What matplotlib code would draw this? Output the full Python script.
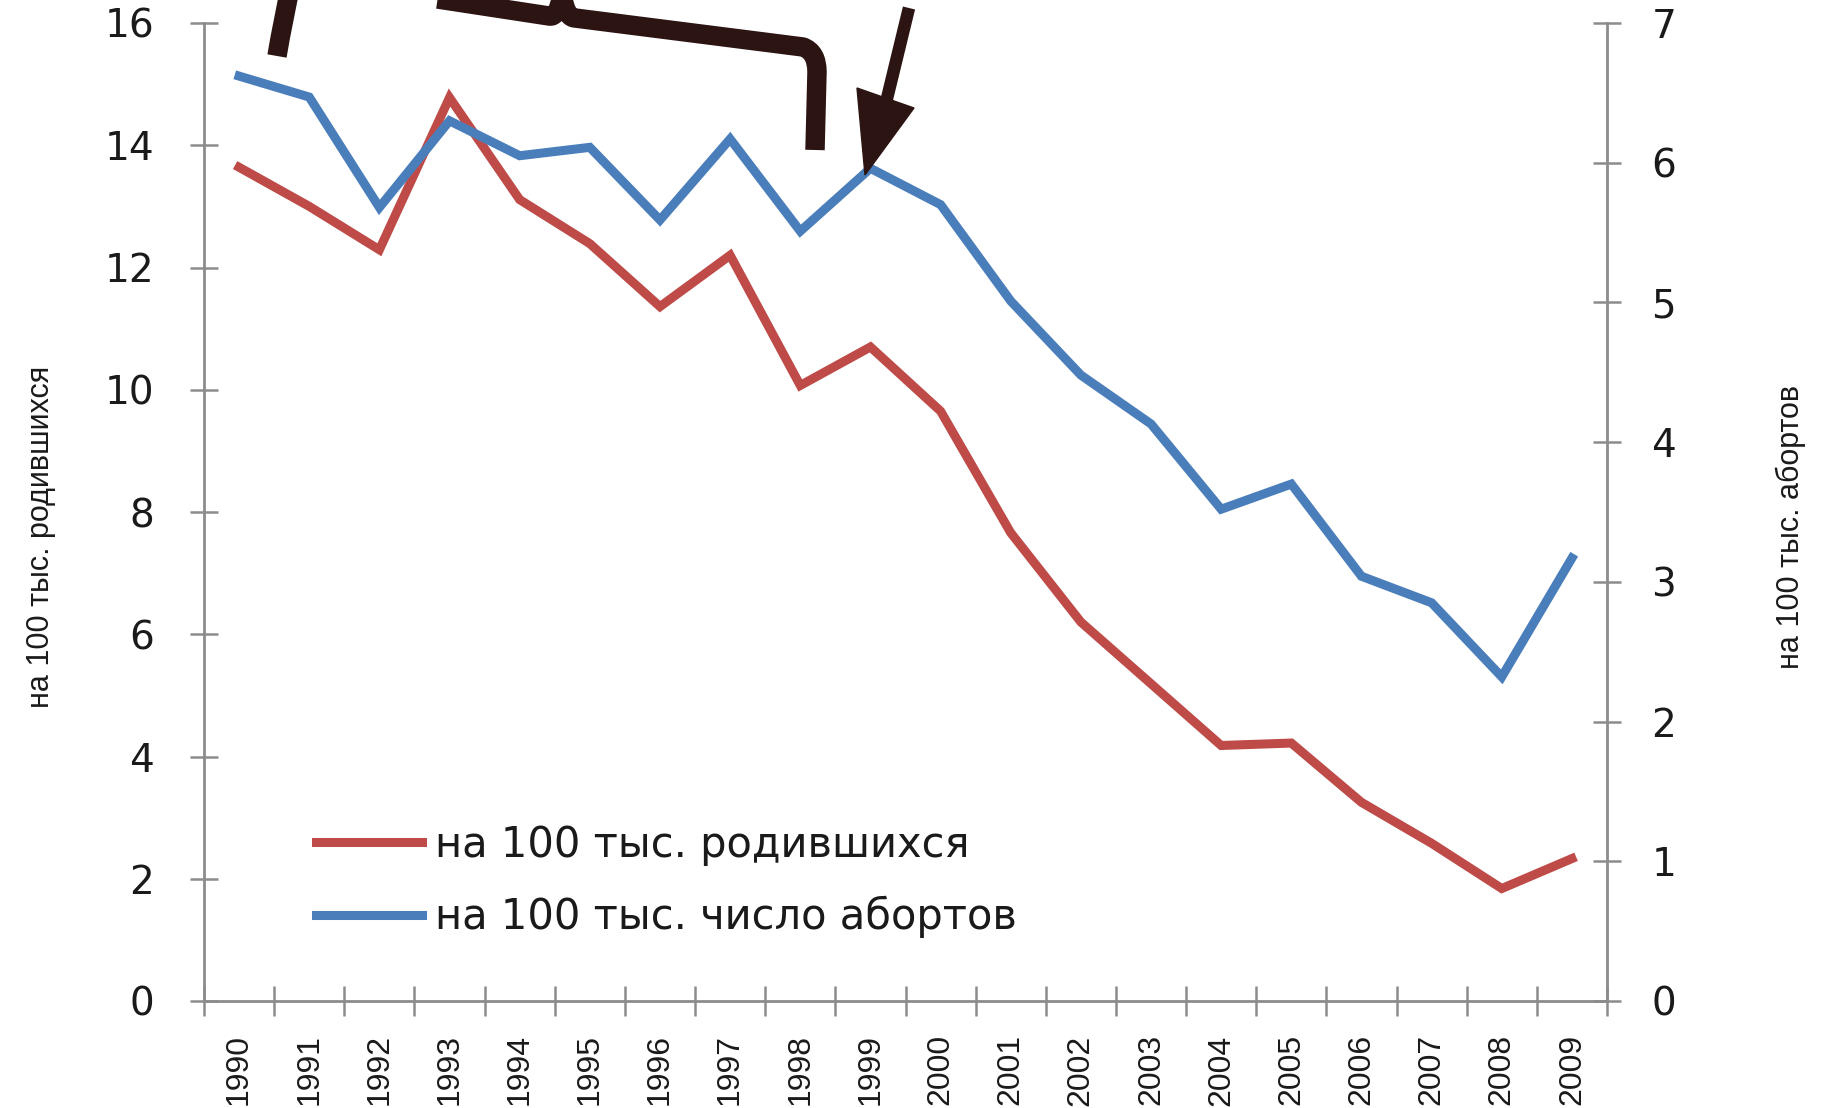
import matplotlib
matplotlib.use('Agg')
import matplotlib.pyplot as plt
from matplotlib.lines import Line2D
from matplotlib.patches import Polygon, PathPatch
from matplotlib.path import Path

# ---- data ----
years = [str(y) for y in range(1990, 2010)]
births = [13.64, 13.0, 12.29, 14.78, 13.11, 12.39, 11.36, 12.2, 10.07, 10.70,
          9.65, 7.66, 6.2, 5.19, 4.18, 4.22, 3.25, 2.58, 1.84, 2.33]
abortions = [6.62, 6.47, 5.68, 6.30, 6.05, 6.11, 5.59, 6.17, 5.51, 5.96,
             5.70, 5.01, 4.48, 4.13, 3.52, 3.70, 3.04, 2.85, 2.32, 3.17]
left_ticks = [0, 2, 4, 6, 8, 10, 12, 14, 16]
right_ticks = [0, 1, 2, 3, 4, 5, 6, 7]
label_births = "на 100 тыс. родившихся"
label_abort = "на 100 тыс. число абортов"
ylabel_left = "на 100 тыс. родившихся"
ylabel_right = "на 100 тыс. абортов"

W, H = 1821, 1108
RED = "#BE4B48"
BLUE = "#4A7EBB"
GREY = "#8C8C8C"
DARK = "#2B1412"
TXT = "#1a1a1a"
NARROW = ['Liberation Sans', 'DejaVu Sans']

def fx(x):
    return x / W

def fy(y):
    return 1 - y / H

fig = plt.figure(figsize=(W / 100, H / 100), dpi=100)
fig.patch.set_facecolor('white')
ax = fig.add_axes([fx(204), fy(1001), fx(1607) - fx(204), fy(23) - fy(1001)])
ax2 = ax.twinx()

x = list(range(len(years)))
l1, = ax.plot(x, births, color=RED, lw=6.5, solid_joinstyle='miter', zorder=3)
l2, = ax2.plot(x, abortions, color=BLUE, lw=6.5, solid_joinstyle='miter', zorder=3)

ax.set_xlim(-0.5, len(years) - 0.5)
ax.set_ylim(0, 16)
ax2.set_ylim(0, 7)

for a in (ax, ax2):
    a.patch.set_visible(False)
    for s in a.spines.values():
        s.set_visible(False)

ax.spines['left'].set_visible(True)
ax.spines['bottom'].set_visible(True)
ax2.spines['right'].set_visible(True)
for s in (ax.spines['left'], ax.spines['bottom'], ax2.spines['right']):
    s.set_color(GREY)
    s.set_linewidth(2.0)

ax.set_yticks(left_ticks)
ax.set_yticklabels([str(t) for t in left_ticks])
ax2.set_yticks(right_ticks)
ax2.set_yticklabels([str(t) for t in right_ticks])

ax.tick_params(axis='y', direction='inout', length=20, width=1.8, color=GREY,
               labelsize=28, labelcolor=TXT, pad=26)
ax2.tick_params(axis='y', direction='inout', length=20, width=1.8, color=GREY,
                labelsize=28, labelcolor=TXT, pad=22)

# category axis: ticks at boundaries, labels at centers
ax.set_xticks([i - 0.5 for i in range(len(years) + 1)])
ax.set_xticklabels([])
ax.set_xticks(x, minor=True)
ax.set_xticklabels(years, minor=True, rotation=90, family=NARROW,
                   fontsize=23, color=TXT)
ax.tick_params(axis='x', which='major', direction='inout', length=22, width=1.8,
               color=GREY)
ax.tick_params(axis='x', which='minor', length=0, pad=24)

for lab in ax.get_yticklabels() + ax2.get_yticklabels():
    lab.set_family('DejaVu Sans')

# axis titles
fig.text(fx(41), fy(537), ylabel_left, rotation=90, ha='center', va='center',
         fontsize=22, family=NARROW, color=TXT)
fig.text(fx(1791), fy(527), ylabel_right, rotation=90, ha='center', va='center',
         fontsize=22, family=NARROW, color=TXT)

# legend
leg = ax.legend([l1, l2], [label_births, label_abort], loc='upper left',
                bbox_to_anchor=(fx(316), fy(824)), bbox_transform=fig.transFigure,
                frameon=False, fontsize=30, handlelength=2.55, handletextpad=0.3,
                labelspacing=0.72, borderpad=0, borderaxespad=0)
for t in leg.get_texts():
    t.set_color(TXT)

# hand-drawn brace and arrow overlay (pixel coordinates of the picture)
def P(px, py):
    return (fx(px), fy(py))

verts = [P(277, 56), P(283, 20), P(292, -20), P(300, -22),
         P(549, 16), P(558, 18), P(562, -5),
         P(566, 18), P(575, 18),
         P(803, 47), P(817, 52), P(817, 72),
         P(815, 150)]
codes = [Path.MOVETO, Path.CURVE3, Path.CURVE3, Path.LINETO,
         Path.LINETO, Path.CURVE3, Path.CURVE3,
         Path.CURVE3, Path.CURVE3,
         Path.LINETO, Path.CURVE3, Path.CURVE3,
         Path.LINETO]
brace = PathPatch(Path(verts, codes), transform=fig.transFigure, fill=False,
                  edgecolor=DARK, lw=14, capstyle='butt', joinstyle='round',
                  zorder=10)
fig.patches.append(brace)

shaft = Line2D([fx(909), fx(883)], [fy(8), fy(115)], transform=fig.transFigure,
               color=DARK, lw=9, solid_capstyle='butt', zorder=10)
fig.lines.append(shaft)
head = Polygon([P(857, 88), P(914, 108), P(865, 175)], closed=True,
               transform=fig.transFigure, facecolor=DARK, edgecolor=DARK,
               lw=1, zorder=10)
fig.patches.append(head)

fig.savefig('out.png', dpi=100, facecolor='white')
